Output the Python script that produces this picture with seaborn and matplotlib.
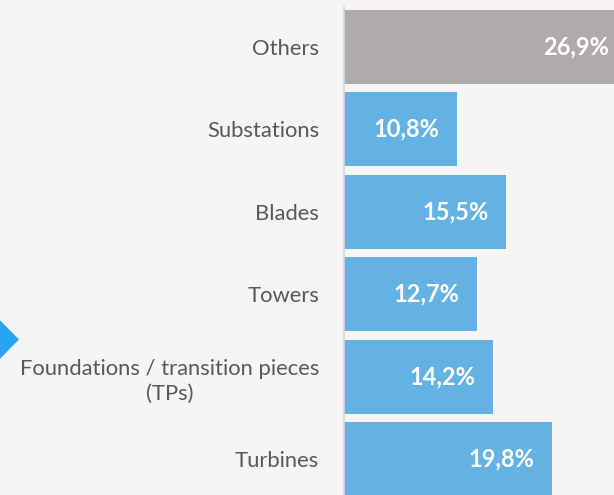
import matplotlib
matplotlib.use("Agg")
import matplotlib.pyplot as plt
from matplotlib.patches import Polygon
import seaborn as sns
import pandas as pd

# Share of offshore wind supply chain by component (%)
categories = ["Others", "Substations", "Blades", "Towers",
              "Foundations / transition pieces\n(TPs)", "Turbines"]
shares = [26.9, 10.8, 15.5, 12.7, 14.2, 19.8]
value_labels = ["26,9%", "10,8%", "15,5%", "12,7%", "14,2%", "19,8%"]
bar_colors = ["#AFABAA", "#64B2E4", "#64B2E4", "#64B2E4", "#64B2E4", "#64B2E4"]

sns.set_theme(style="white")
plt.rcParams["font.family"] = ["Lato", "DejaVu Sans"]

W, H, DPI = 614, 495, 100
bg = "#f5f5f5"
fig = plt.figure(figsize=(W / DPI, H / DPI), dpi=DPI, facecolor=bg)

ax_left_px, ax_top_px = 343.5, 7
ax = fig.add_axes([ax_left_px / W, 0, 1 - ax_left_px / W, 1 - ax_top_px / H])
ax.set_facecolor(bg)

df = pd.DataFrame({"component": categories, "share": shares})
sns.barplot(data=df, x="share", y="component", hue="component",
            palette=bar_colors, orient="h", width=0.9, saturation=1,
            legend=False, ax=ax, linewidth=0, zorder=2)

px_per_unit = 10.515
ax.set_xlim(0, (W - ax_left_px) / px_per_unit)
ax.set_ylim((H - 47) / 82.4, (ax_top_px - 47) / 82.4)

for i, (v, lab) in enumerate(zip(shares, value_labels)):
    ax.annotate(lab, xy=(v, i), xytext=(-12.5, 0), textcoords="offset points",
                ha="right", va="center", color="white", fontsize=17,
                fontweight="bold", annotation_clip=False, zorder=3)

ax.set_xlabel("")
ax.set_ylabel("")
ax.set_xticks([])
ax.tick_params(axis="y", length=0, pad=17.5, labelsize=15.8, labelcolor="#595959")
for lbl in ax.get_yticklabels():
    lbl.set_multialignment("center")
    lbl.set_linespacing(1.3)

for side in ["top", "right", "bottom"]:
    ax.spines[side].set_visible(False)
ax.spines["left"].set_color("#d9d9d9")
ax.spines["left"].set_linewidth(1.2)
ax.spines["left"].set_zorder(4)

# pointer arrow at the left edge
tri = Polygon([(-20 / W, 1 - 300 / H), (19 / W, 1 - 339.5 / H), (-20 / W, 1 - 379 / H)],
              closed=True, transform=fig.transFigure, facecolor="#29A3F3",
              edgecolor="none")
fig.patches.append(tri)

fig.savefig("out.png", dpi=DPI, facecolor=bg)
